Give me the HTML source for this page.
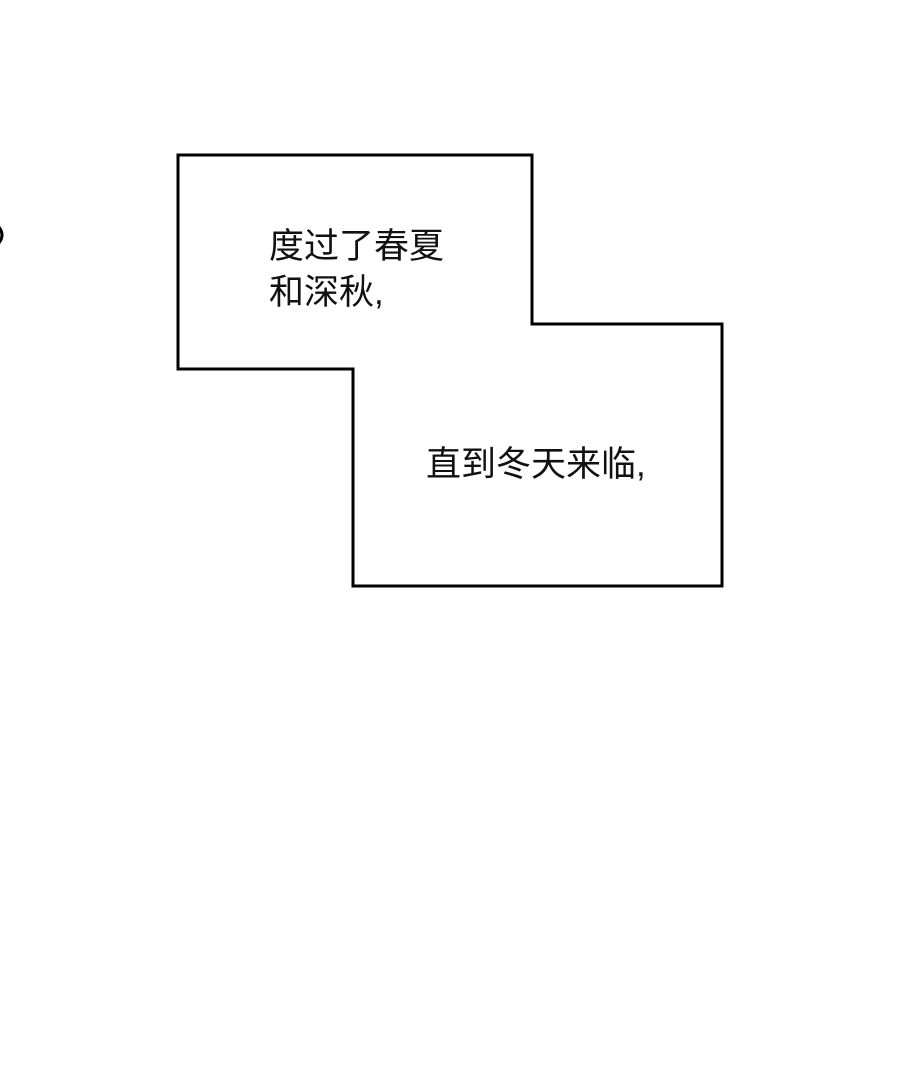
<!DOCTYPE html>
<html><head><meta charset="utf-8"><style>
html,body{margin:0;padding:0;background:#fff;}
body{width:900px;height:1073px;position:relative;overflow:hidden;}
.t{position:absolute;font-family:"Liberation Sans","Noto Sans CJK SC",sans-serif;font-size:35px;line-height:46px;color:#111;white-space:nowrap;}
</style></head><body>
<svg width="900" height="1073" style="position:absolute;left:0;top:0">
<polygon points="178,155 532,155 532,324 722,324 722,586 353,586 353,369 178,369" fill="#fff" stroke="#000" stroke-width="3"/>
<path d="M-2,226 Q6,235 -2,244" fill="none" stroke="#000" stroke-width="3"/>
</svg>
<div class="t" style="left:269px;top:224px;">度过了春夏<br>和深秋,</div>
<div class="t" style="left:426px;top:442px;">直到冬天来临,</div>
</body></html>
